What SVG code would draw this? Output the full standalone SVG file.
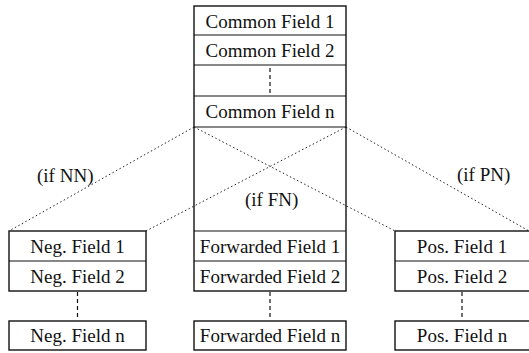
<svg xmlns="http://www.w3.org/2000/svg" width="529" height="353" viewBox="0 0 529 353">
  <style>
    .box { fill: #fff; stroke: #111; stroke-width: 1.4; }
    .frame { fill: none; stroke: #111; stroke-width: 1.4; }
    .div { stroke: #111; stroke-width: 1.2; }
    .gap { stroke: #111; stroke-width: 1.2; stroke-dasharray: 4 3; fill: none; }
    .dot { stroke: #222; stroke-width: 1; stroke-dasharray: 1.5 2.5; fill: none; }
    text { font-family: "Liberation Serif", "Times New Roman", serif; font-size: 19px; fill: #111; }
    .c { text-anchor: middle; }
  </style>
  <rect width="529" height="353" fill="#fff"/>

  <!-- dotted branches from the common block to the three record formats -->
  <g id="connectors">
    <line class="dot" x1="194" y1="127" x2="9" y2="231"/>
    <line class="dot" x1="194" y1="127" x2="395" y2="231"/>
    <line class="dot" x1="346" y1="127" x2="146" y2="231"/>
    <line class="dot" x1="346" y1="127" x2="529" y2="231"/>
    <line class="gap" x1="270" y1="68" x2="270" y2="94"/>
    <line class="gap" x1="77.5" y1="292" x2="77.5" y2="320"/>
    <line class="gap" x1="270" y1="292" x2="270" y2="320"/>
    <line class="gap" x1="462" y1="292" x2="462" y2="320"/>
  </g>

  <!-- common + forwarded column (one tall open frame) -->
  <g id="common">
    <rect class="frame" x="194" y="6" width="152" height="285"/>
    <line class="div" x1="194" y1="35" x2="346" y2="35"/>
    <line class="div" x1="194" y1="65" x2="346" y2="65"/>
    <line class="div" x1="194" y1="96" x2="346" y2="96"/>
    <line class="div" x1="194" y1="127" x2="346" y2="127"/>
    <text class="c" x="270" y="27.5">Common Field 1</text>
    <text class="c" x="270" y="57">Common Field 2</text>
    <text class="c" x="270" y="118">Common Field n</text>
  </g>

  <g id="forwarded">
    <line class="div" x1="194" y1="231" x2="346" y2="231"/>
    <line class="div" x1="194" y1="261" x2="346" y2="261"/>
    <text class="c" x="270" y="252.5">Forwarded Field 1</text>
    <text class="c" x="270" y="282.5">Forwarded Field 2</text>
    <rect class="box" x="194" y="321" width="152" height="29"/>
    <text class="c" x="270" y="342">Forwarded Field n</text>
  </g>

  <g id="negative">
    <rect class="box" x="9" y="231" width="137" height="60"/>
    <line class="div" x1="9" y1="261" x2="146" y2="261"/>
    <text class="c" x="77.5" y="252.5">Neg. Field 1</text>
    <text class="c" x="77.5" y="282.5">Neg. Field 2</text>
    <rect class="box" x="9" y="321" width="137" height="29"/>
    <text class="c" x="77.5" y="342">Neg. Field n</text>
  </g>

  <g id="positive">
    <rect class="box" x="395" y="231" width="136" height="60"/>
    <line class="div" x1="395" y1="261" x2="531" y2="261"/>
    <text class="c" x="462" y="252.5">Pos. Field 1</text>
    <text class="c" x="462" y="282.5">Pos. Field 2</text>
    <rect class="box" x="395" y="321" width="136" height="29"/>
    <text class="c" x="462" y="342">Pos. Field n</text>
  </g>

  <g id="labels">
    <text x="37" y="182">(if NN)</text>
    <text x="245" y="206">(if FN)</text>
    <text x="457" y="181">(if PN)</text>
  </g>
</svg>
